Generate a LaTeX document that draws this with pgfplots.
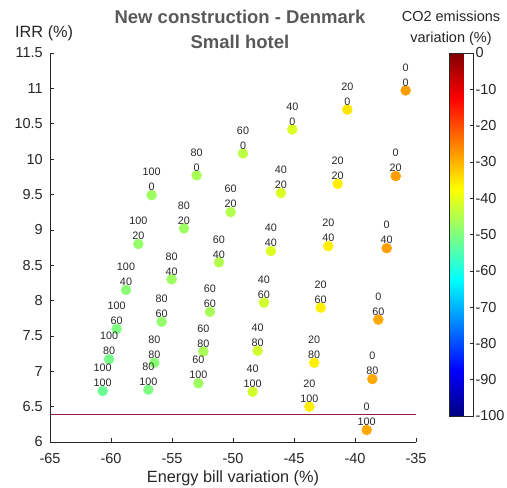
\documentclass[border=0pt]{standalone}
\usepackage{pgfplots}
\usepackage{pgfplotstable}
\pgfplotsset{compat=1.18}
\usepackage{fontspec}
\setmainfont{Liberation Sans}
\definecolor{axgray}{rgb}{0.15,0.15,0.15}
\definecolor{titlegray}{rgb}{0.35,0.35,0.35}
\definecolor{refline}{RGB}{150,30,70}

\pgfplotstableread{
x y c a b
-35.85 10.97 -28 0 0
-36.66 9.76 -28 0 20
-37.40 8.74 -28 0 40
-38.09 7.73 -29 0 60
-38.58 6.89 -29 0 80
-39.04 6.17 -29 0 100
-40.63 10.70 -35 20 0
-41.42 9.65 -36 20 20
-42.19 8.77 -36 20 40
-42.81 7.90 -36 20 60
-43.34 7.12 -36 20 80
-43.74 6.50 -36 20 100
-45.14 10.42 -41 40 0
-46.07 9.52 -41 40 20
-46.89 8.70 -41 40 40
-47.46 7.97 -42 40 60
-47.98 7.29 -42 40 80
-48.39 6.71 -42 40 100
-49.18 10.08 -44 60 0
-50.19 9.25 -45 60 20
-51.15 8.54 -45 60 40
-51.89 7.84 -46 60 60
-52.43 7.28 -46 60 80
-52.84 6.83 -47 60 100
-52.98 9.77 -46 80 0
-54.02 9.02 -47 80 20
-55.03 8.30 -47 80 40
-55.85 7.70 -48 80 60
-56.45 7.12 -49 80 80
-56.94 6.74 -50 80 100
-56.67 9.49 -47 100 0
-57.76 8.80 -48 100 20
-58.77 8.15 -49 100 40
-59.54 7.60 -50 100 60
-60.16 7.17 -51 100 80
-60.68 6.72 -52 100 100
}\pts

\begin{document}
\begin{tikzpicture}
\begin{axis}[
  name=main, at={(0,0)}, anchor=south west,
  scale only axis, width=366bp, height=389bp,
  xmin=-65, xmax=-35, ymin=6, ymax=11.5,
  xtick={-65,-60,...,-35}, ytick={6,6.5,...,11.5},
  axis x line*=bottom, axis y line*=left,
  axis line style={axgray, line width=0.5bp},
  tick align=inside, major tick length=4bp,
  tick style={axgray, line width=0.5bp},
  /pgf/number format/assume math mode=true,
  ticklabel style={font=\fontsize{14.5bp}{17bp}\selectfont, text=axgray},
  yticklabel style={anchor=east, inner sep=0pt, xshift=-7bp},
  xticklabel style={anchor=north, inner sep=0pt, yshift=-11bp},
  clip=false,
  colormap/jet,
  point meta min=-100, point meta max=0,
  colorbar,
  colorbar style={
    at={(parent axis.north east)}, anchor=north west,
    xshift=24.7bp,
    scale only axis, width=23.6bp, height=363bp,
    ytick={-100,-90,...,0},
    ytick pos=right, yticklabel pos=right,
    tick align=inside, major tick length=3bp,
    axis line style={axgray, line width=0.5bp},
    tick style={axgray, line width=0.5bp},
    /pgf/number format/assume math mode=true,
    yticklabel style={anchor=west, inner sep=0pt, xshift=2.5bp,
      font=\fontsize{14.5bp}{17bp}\selectfont, text=axgray},
  },
]
\addplot[refline, line width=1.5bp, forget plot] coordinates {(-65,6.39) (-35,6.39)};
\addplot[scatter, only marks, mark=*, mark size=5bp,
  point meta=explicit,
  scatter/use mapped color={draw=mapped color, fill=mapped color},
] table[x=x, y=y, meta=c] {\pts};
\addplot[draw=none, mark=none, forget plot,
  point meta=explicit,
  visualization depends on={\thisrow{a}\as\labA},
  visualization depends on={\thisrow{b}\as\labB},
  nodes near coords={\pgfmathprintnumber[fixed,precision=0]{\labA}\\\pgfmathprintnumber[fixed,precision=0]{\labB}},
  nodes near coords style={align=center, anchor=south, inner sep=0pt, yshift=4bp,
    font=\fontsize{10.8bp}{15bp}\selectfont, text=axgray},
] table[x=x, y=y, meta=c] {\pts};
\end{axis}
\node[font=\bfseries\fontsize{18.5bp}{25bp}\selectfont, text=titlegray, align=center] at (190bp,412.5bp) {New construction - Denmark\\Small hotel};
\node[font=\fontsize{14.5bp}{21bp}\selectfont, text=axgray, align=center] at (401bp,414bp) {CO2 emissions\\variation (\%)};
\node[font=\fontsize{16.3bp}{19bp}\selectfont, text=axgray, anchor=west, inner sep=0pt] at (-35bp,409bp) {IRR (\%)};
\node[font=\fontsize{16.3bp}{19bp}\selectfont, text=axgray, inner sep=0pt] at (183bp,-36bp) {Energy bill variation (\%)};
\pgfresetboundingbox
\path[use as bounding box] (-50bp,-46bp) rectangle (457bp,442bp);
\end{tikzpicture}
\end{document}
